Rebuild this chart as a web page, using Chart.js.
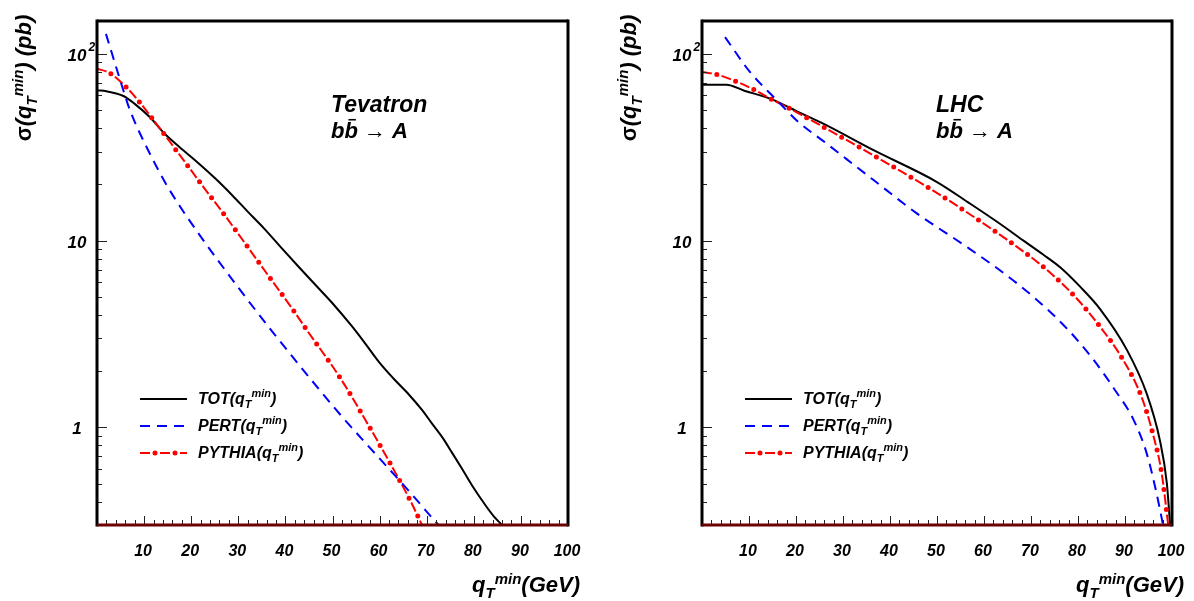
<!DOCTYPE html>
<html><head><meta charset="utf-8">
<script src="https://cdn.jsdelivr.net/npm/chart.js@4"></script>
<style>
html,body{margin:0;padding:0;background:#fff;overflow:hidden;width:1194px;height:601px}
canvas{position:absolute;top:0}
</style></head><body>
<canvas id="c1" width="597" height="601" style="left:0px"></canvas>
<canvas id="c2" width="589" height="601" style="left:605px"></canvas>
<script>
// ---------- DATA ----------
// Tevatron
const tevTotQ = [0, 2, 5.6, 8, 11.2, 14, 17.5, 21, 25.3, 28.8, 32, 35.5, 39.4, 42.9, 46.5, 49.9, 54.2, 57, 59.8, 63, 66.2, 69, 71.1, 73.5, 75.4, 77.5, 79.6, 82.4, 84.2, 86];
const tevTotV = [63.8, 63.0, 59.5, 54.0, 45.9, 38.2, 31.7, 26.7, 21.3, 17.4, 14.3, 11.6, 9.0, 7.2, 5.75, 4.65, 3.46, 2.8, 2.25, 1.82, 1.5, 1.24, 1.05, 0.87, 0.73, 0.6, 0.49, 0.385, 0.335, 0.3];
const tevPertQ = [1.9, 5.6, 7.0, 11.2, 14.7, 16.8, 21.8, 30.1, 37.3, 42.9, 51.4, 59.8, 66.2, 71.5, 72.5];
const tevPertV = [128, 63.8, 49.9, 29.3, 20.0, 16.4, 10.7, 5.56, 3.24, 2.16, 1.19, 0.69, 0.457, 0.32, 0.3];
const tevPythQ = [0, 2.7, 6.2, 8.9, 11.6, 16.8, 19.3, 21.8, 27.1, 34.5, 41.9, 44.3, 51.7, 58.3, 62.5, 66.5, 69];
const tevPythV = [83.4, 78.9, 66.4, 55.7, 45.6, 30.5, 25.1, 20.6, 13.7, 7.55, 4.16, 3.39, 1.83, 0.96, 0.625, 0.406, 0.3];
// LHC
const lhcTotQ = [0, 5.2, 9, 14.5, 20, 25.8, 36.5, 50, 57, 63, 68.4, 72.5, 76.2, 80.5, 84.7, 90.4, 94.6, 97.4, 98.9, 99.6];
const lhcTotV = [68.4, 68.4, 63.5, 57.6, 49.5, 42.3, 30.5, 20.6, 15.8, 12.5, 10.0, 8.45, 7.2, 5.65, 4.3, 2.6, 1.52, 0.857, 0.503, 0.3];
const lhcPertQ = [4.9, 10.2, 14.5, 16.6, 20.1, 26.5, 36.5, 45.7, 56.3, 63.8, 70.5, 77.6, 83.3, 87.6, 91.8, 94.6, 96.7, 98.1];
const lhcPertV = [123, 80, 61.3, 54.2, 44.1, 33.1, 21.1, 14.0, 9.27, 6.81, 5.0, 3.39, 2.30, 1.62, 1.10, 0.728, 0.445, 0.3];
const lhcPythQ = [0, 3.1, 7.0, 11.1, 14.8, 18.7, 26.2, 33.6, 41.1, 48.5, 55.6, 66.2, 73, 79.4, 84.7, 89.6, 93.5, 96, 97.8, 99.2];
const lhcPythV = [80, 77.7, 71.6, 64.3, 57.1, 50.9, 40.1, 31.5, 24.5, 19.0, 14.6, 9.58, 7.1, 5.0, 3.46, 2.30, 1.46, 0.91, 0.569, 0.3];

const xTickLabels = [10, 20, 30, 40, 50, 60, 70, 80, 90, 100];
const yMajorTicks = [1, 10, 100];
const seriesNames = ['TOT', 'PERT', 'PYTHIA'];
const panelTitles = ['Tevatron', 'LHC'];

// ---------- helpers ----------
const FAM = '"Liberation Sans", Arial, Helvetica, sans-serif';
const bi = s => `italic bold ${s}px ${FAM}`;
const pts = (q, v) => q.map((x, i) => ({x, y: v[i]}));

function drawRich(ctx, parts, x, y, align) {
  let w = 0;
  const ws = parts.map(p => { ctx.font = p.font || bi(p.s); const m = ctx.measureText(p.t).width; w += m; return m; });
  let cx = align === 'right' ? x - w : align === 'center' ? x - w / 2 : x;
  parts.forEach((p, i) => {
    ctx.font = p.font || bi(p.s);
    ctx.fillText(p.t, cx, y + (p.dy || 0));
    if (p.bar) {
      ctx.save(); ctx.lineWidth = 1.6; ctx.strokeStyle = ctx.fillStyle;
      ctx.beginPath(); ctx.moveTo(cx + ws[i] * 0.3, y - p.s * 0.83); ctx.lineTo(cx + ws[i] * 0.85, y - p.s * 0.83); ctx.stroke();
      ctx.restore();
    }
    cx += ws[i];
  });
  return w;
}
function qmin(prefix, size, sub, post) {
  return [{t: prefix, s: size}, {t: 'T', s: sub, dy: size * 0.25}, {t: 'min', s: sub, dy: -size * 0.38}, {t: post, s: size}];
}

function seg(ctx, x1, y1, x2, y2) { ctx.beginPath(); ctx.moveTo(x1, y1); ctx.lineTo(x2, y2); ctx.stroke(); }

const decor = {
  id: 'decor',
  afterDraw(chart, args, opts) {
    const {ctx, chartArea: a, scales: {x, y}} = chart;
    ctx.save();
    ctx.fillStyle = '#000';
    ctx.textBaseline = 'alphabetic';
    ctx.textAlign = 'left';
    // ticks
    ctx.strokeStyle = '#222'; ctx.lineWidth = 1;
    for (let q = 2; q < 100; q += 2) {
      const px = Math.round(x.getPixelForValue(q)) + 0.5;
      seg(ctx, px, a.bottom, px, a.bottom - (q % 10 === 0 ? 9 : 5));
    }
    [0.1, 1, 10, 100].forEach(d => {
      for (let m = 1; m <= 9; m++) {
        const v = m * d;
        if (v < 0.3 || v > 150) continue;
        const py = Math.round(y.getPixelForValue(v)) + 0.5;
        seg(ctx, a.left, py, a.left + (m === 1 ? 10 : 5), py);
      }
    });
    // frame
    ctx.lineWidth = 3; ctx.strokeStyle = '#000';
    seg(ctx, a.left, a.top, a.right, a.top);
    seg(ctx, a.left, a.top - 1.5, a.left, a.bottom + 1.5);
    seg(ctx, a.right, a.top - 1.5, a.right, a.bottom + 1.5);
    ctx.strokeStyle = '#6e0000';
    seg(ctx, a.left, a.bottom, a.right, a.bottom);
    // x tick labels
    ctx.fillStyle = '#000';
    xTickLabels.forEach(q => {
      ctx.font = bi(16); ctx.textAlign = 'center';
      ctx.fillText(String(q), x.getPixelForValue(q) - 1, a.bottom + 31);
    });
    ctx.textAlign = 'left';
    // y tick labels
    yMajorTicks.forEach(v => {
      const py = y.getPixelForValue(v);
      const cx = a.left - 20;
      ctx.font = bi(17);
      if (v === 100) {
        const w = ctx.measureText('10').width;
        ctx.fillText('10', cx - w / 2, py + 7.5);
        ctx.font = bi(12);
        ctx.fillText('2', cx + w / 2 + 2, py - 2.5);
      } else {
        ctx.textAlign = 'center';
        ctx.fillText(String(v), cx, py + 7);
        ctx.textAlign = 'left';
      }
    });
    // x axis title
    drawRich(ctx, qmin('q', 22, 15, '(GeV)'), a.right + 12, 592, 'right');
    // y axis title (rotated)
    ctx.save();
    ctx.translate(a.left - 66, 78);
    ctx.rotate(-Math.PI / 2);
    const yt = [{t: 'σ', s: 22, font: `bold 22px ${FAM}`}].concat(qmin('(q', 22, 15, ') (pb)'));
    drawRich(ctx, yt, 0, 0, 'center');
    ctx.restore();
    // panel annotation
    const ax = a.left + 234;
    ctx.font = bi(23);
    ctx.fillText(opts.title, ax, 112);
    drawRich(ctx, [{t: 'b', s: 22}, {t: 'b', s: 22, bar: true}, {t: ' \u2192 ', s: 22, font: `22px ${FAM}`}, {t: 'A', s: 22}], ax, 138, 'left');
    // legend
    const lx1 = a.left + 43, lx2 = a.left + 90, tx = a.left + 101;
    const ly = [399, 426, 453];
    ctx.lineWidth = 2;
    ctx.strokeStyle = '#000'; ctx.setLineDash([]);
    seg(ctx, lx1, ly[0], lx2, ly[0]);
    ctx.strokeStyle = '#0000ff'; ctx.setLineDash([10, 7]);
    seg(ctx, lx1, ly[1], lx2, ly[1]);
    ctx.strokeStyle = '#ff0000'; ctx.setLineDash([10, 10]);
    seg(ctx, lx1, ly[2], lx2, ly[2]);
    ctx.lineWidth = 5; ctx.lineCap = 'round'; ctx.setLineDash([0, 20]); ctx.lineDashOffset = 5;
    seg(ctx, lx1, ly[2], lx2, ly[2]);
    ctx.setLineDash([]); ctx.lineCap = 'butt'; ctx.lineDashOffset = 0;
    ctx.fillStyle = '#000';
    seriesNames.forEach((n, i) => drawRich(ctx, qmin(n + '(q', 16, 11, ')'), tx, ly[i] + 4.5, 'left'));
    ctx.restore();
  }
};

function makeChart(id, title, tq, tv, pq, pv, yq, yv, padRight) {
  const common = {fill: false, pointRadius: 0, cubicInterpolationMode: 'monotone'};
  return new Chart(document.getElementById(id), {
    type: 'line',
    data: {
      datasets: [
        Object.assign({label: 'PERT', data: pts(pq, pv), borderColor: '#0000ff', borderWidth: 2, borderDash: [10, 7]}, common),
        Object.assign({label: 'PYTHIA', data: pts(yq, yv), borderColor: '#ff0000', borderWidth: 2, borderDash: [10, 10]}, common),
        Object.assign({label: 'PYTHIA dots', data: pts(yq, yv), borderColor: '#ff0000', borderWidth: 5, borderDash: [0, 20], borderDashOffset: 5, borderCapStyle: 'round'}, common),
        Object.assign({label: 'TOT', data: pts(tq, tv), borderColor: '#000000', borderWidth: 2}, common)
      ]
    },
    options: {
      responsive: false, animation: false, devicePixelRatio: 1,
      layout: {padding: {top: 21, right: padRight, left: 0, bottom: 0}},
      plugins: {legend: {display: false}, tooltip: {enabled: false}, decor: {title}},
      scales: {
        x: {type: 'linear', min: 0, max: 100, ticks: {display: false}, grid: {display: false}, border: {display: false},
            afterFit(s) { s.height = 76; }},
        y: {type: 'logarithmic', min: 0.3, max: 150, ticks: {display: false}, grid: {display: false}, border: {display: false},
            afterFit(s) { s.width = 97; }}
      }
    },
    plugins: [decor]
  });
}

makeChart('c1', panelTitles[0], tevTotQ, tevTotV, tevPertQ, tevPertV, tevPythQ, tevPythV, 29);
makeChart('c2', panelTitles[1], lhcTotQ, lhcTotV, lhcPertQ, lhcPertV, lhcPythQ, lhcPythV, 22);
</script>
</body></html>
